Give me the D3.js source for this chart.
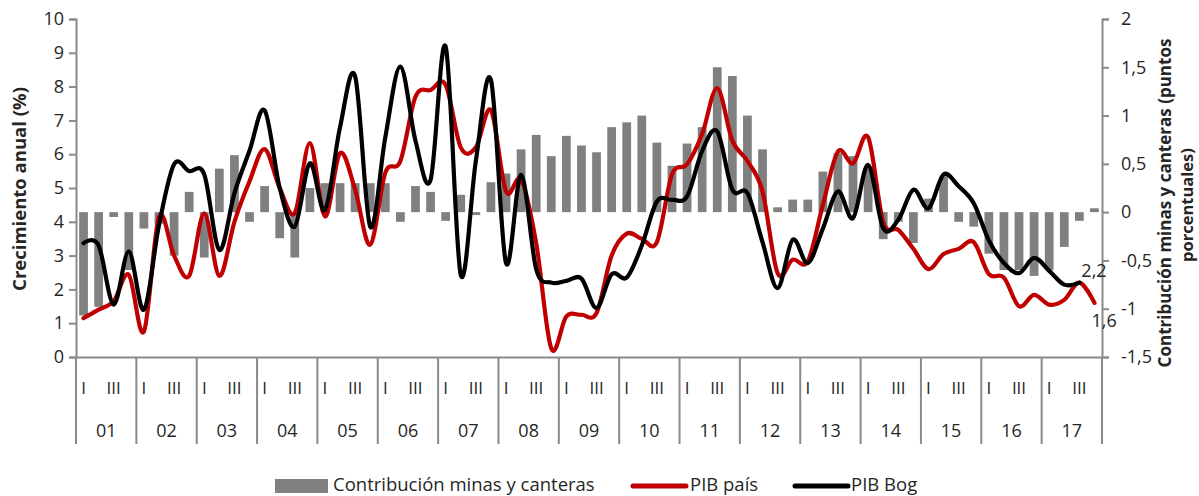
<!DOCTYPE html>
<html><head><meta charset="utf-8">
<script src="https://cdn.jsdelivr.net/npm/d3@7/dist/d3.min.js"></script>
<style>
body{margin:0;background:#fff}
svg{display:block}
text{font-family:"Open Sans",sans-serif;fill:#262626}
</style>
</head><body>
<svg id="c" width="1199" height="496"></svg>
<script>
// ---- data ----
const years = ["01","02","03","04","05","06","07","08","09","10","11","12","13","14","15","16","17"];
const quarterMarks = ["I","","III",""];
const leftTicks = [0,1,2,3,4,5,6,7,8,9,10];
const rightTicks = [-1.5,-1,-0.5,0,0.5,1,1.5,2];

const contribMinas = [
 -1.07,-0.98,-0.05,-0.6, -0.17,-0.12,-0.45,0.21, -0.47,0.45,0.59,-0.1,
 0.27,-0.27,-0.47,0.25, 0.3,0.3,0.3,0.3, 0.3,-0.1,0.27,0.21,
 -0.09,0.18,-0.03,0.31, 0.4,0.65,0.8,0.58, 0.79,0.69,0.62,0.88,
 0.93,1.0,0.72,0.48, 0.71,0.88,1.5,1.41, 1.0,0.65,0.05,0.13,
 0.13,0.42,0.61,0.58, 0.45,-0.28,-0.1,-0.32, 0.14,0.37,-0.1,-0.15,
 -0.43,-0.6,-0.6,-0.66, -0.6,-0.36,-0.09,0.04
];
const pibPais = [
 1.15,1.4,1.65,2.43, 0.75,4.15,3.0,2.4, 4.25,2.4,4.0,5.2,
 6.15,5.0,4.26,6.33, 4.16,6.03,4.95,3.32, 5.45,5.8,7.7,7.9,
 8.05,6.2,6.2,7.3, 4.9,5.25,3.37,0.25, 1.2,1.25,1.3,3.0,
 3.65,3.5,3.4,5.4, 5.7,6.6,7.95,6.4, 5.8,4.9,2.48,2.88,
 2.83,4.5,6.08,5.73, 6.5,4.0,3.76,3.2, 2.6,3.05,3.2,3.4,
 2.45,2.35,1.5,1.84, 1.55,1.69,2.2,1.6
];
const pibBog = [
 3.37,3.3,1.55,3.12, 1.4,3.9,5.7,5.5, 5.4,3.17,4.85,6.1,
 7.3,5.0,3.86,5.73, 4.35,6.8,8.3,3.86, 6.5,8.59,6.4,5.24,
 9.18,2.43,5.8,8.2, 2.78,5.39,2.6,2.2, 2.25,2.32,1.45,2.45,
 2.35,3.3,4.6,4.65, 4.75,6.1,6.67,4.95, 4.85,3.4,2.04,3.47,
 2.78,3.8,4.9,4.11, 5.68,3.81,4.06,4.95, 4.4,5.4,5.05,4.55,
 3.45,2.78,2.48,2.93, 2.55,2.14,2.2
];
const seriesNames = ["Contribución minas y canteras","PIB país","PIB Bog"];
const leftTitle = "Crecimiento anual (%)";
const rightTitle = ["Contribución minas y canteras (puntos","porcentuales)"];

// ---- layout ----
const svg = d3.select("#c");
const L = 76, R = 1102, T = 19, B = 357;
const axisCol = "#8a8a8a";
const n = contribMinas.length;

const x = d3.scaleBand().domain(d3.range(n)).range([L, R]).paddingInner(0.42).paddingOuter(0.21);
const yL = d3.scaleLinear().domain([0, 10]).range([B, T]);
const yR = d3.scaleLinear().domain([-1.5, 2]).range([B, T]);
const cx = i => x(i) + x.bandwidth() / 2;
const comma = d => String(d).replace(".", ",");

// bars
svg.append("g").selectAll("rect").data(contribMinas).join("rect")
  .attr("x", (d, i) => x(i))
  .attr("width", x.bandwidth())
  .attr("y", d => yR(Math.max(0, d)))
  .attr("height", d => Math.abs(yR(d) - yR(0)))
  .attr("fill", "#808080");

// lines
const line = d3.line().x((d, i) => cx(i)).y(d => yL(d)).curve(d3.curveCardinal.tension(0));
svg.append("path").datum(pibPais).attr("d", line)
  .attr("fill", "none").attr("stroke", "#c00000").attr("stroke-width", 4.2)
  .attr("stroke-linejoin", "round").attr("stroke-linecap", "round");
svg.append("path").datum(pibBog).attr("d", line)
  .attr("fill", "none").attr("stroke", "#000").attr("stroke-width", 4.2)
  .attr("stroke-linejoin", "round").attr("stroke-linecap", "round");

// left axis
const gL = svg.append("g").attr("transform", `translate(${L},0)`)
  .call(d3.axisLeft(yL).tickValues(leftTicks).tickSize(7).tickPadding(5).tickFormat(d3.format("d")));
// right axis
const gR = svg.append("g").attr("transform", `translate(${R},0)`)
  .call(d3.axisRight(yR).tickValues(rightTicks).tickSize(7).tickPadding(12).tickFormat(comma));
[gL, gR].forEach(g => {
  g.select(".domain").attr("stroke", axisCol).attr("stroke-width", 2);
  g.selectAll(".tick line").attr("stroke", axisCol).attr("stroke-width", 2);
  g.selectAll(".tick text").attr("font-size", 18).attr("font-family", "Open Sans").attr("fill", "#262626");
});

// bottom category axis
const gB = svg.append("g").attr("transform", `translate(0,${B})`)
  .call(d3.axisBottom(x).tickSize(0).tickFormat(""));
gB.select(".domain").attr("stroke", axisCol).attr("stroke-width", 2);
const yearStep = x.step() * 4;
const bounds = d3.range(years.length + 1).map(k => L + k * yearStep);
svg.append("g").selectAll("line").data(bounds).join("line")
  .attr("x1", d => d).attr("x2", d => d).attr("y1", B).attr("y2", 444)
  .attr("stroke", axisCol).attr("stroke-width", 2);
svg.append("g").selectAll("text").data(d3.range(n).filter(i => quarterMarks[i % 4] !== "")).join("text")
  .attr("x", i => cx(i)).attr("y", 394).attr("text-anchor", "middle")
  .attr("font-size", 17).text(i => quarterMarks[i % 4]);
svg.append("g").selectAll("text").data(years).join("text")
  .attr("x", (d, k) => L + (k + 0.5) * yearStep).attr("y", 437).attr("text-anchor", "middle")
  .attr("font-size", 18).text(d => d);

// axis titles
svg.append("text").attr("transform", "translate(26,189) rotate(-90)")
  .attr("text-anchor", "middle").attr("font-size", 18.5).attr("font-weight", "bold").text(leftTitle);
svg.append("text").attr("transform", "translate(1171,203) rotate(-90)")
  .attr("text-anchor", "middle").attr("font-size", 17).attr("font-weight", "bold").text(rightTitle[0]);
svg.append("text").attr("transform", "translate(1193,205) rotate(-90)")
  .attr("text-anchor", "middle").attr("font-size", 16.5).attr("font-weight", "bold").text(rightTitle[1]);

// end labels
const lastB = pibBog.length - 1, lastP = pibPais.length - 1;
svg.append("text").attr("x", cx(lastB) + 2).attr("y", yL(pibBog[lastB]) - 6)
  .attr("font-size", 18).text(comma(pibBog[lastB]));
svg.append("text").attr("x", cx(lastP) - 3).attr("y", yL(pibPais[lastP]) + 24)
  .attr("font-size", 18).text(comma(pibPais[lastP]));

// legend
const lg = svg.append("g");
lg.append("rect").attr("x", 275).attr("y", 479).attr("width", 53).attr("height", 14).attr("fill", "#808080");
lg.append("text").attr("x", 333).attr("y", 491).attr("font-size", 18.5).text(seriesNames[0]);
lg.append("line").attr("x1", 633).attr("x2", 686).attr("y1", 486).attr("y2", 486)
  .attr("stroke", "#c00000").attr("stroke-width", 5).attr("stroke-linecap", "round");
lg.append("text").attr("x", 690).attr("y", 491).attr("font-size", 18.5).text(seriesNames[1]);
lg.append("line").attr("x1", 795).attr("x2", 848).attr("y1", 486).attr("y2", 486)
  .attr("stroke", "#000").attr("stroke-width", 5).attr("stroke-linecap", "round");
lg.append("text").attr("x", 851).attr("y", 491).attr("font-size", 18.5).text(seriesNames[2]);
</script>
</body></html>
